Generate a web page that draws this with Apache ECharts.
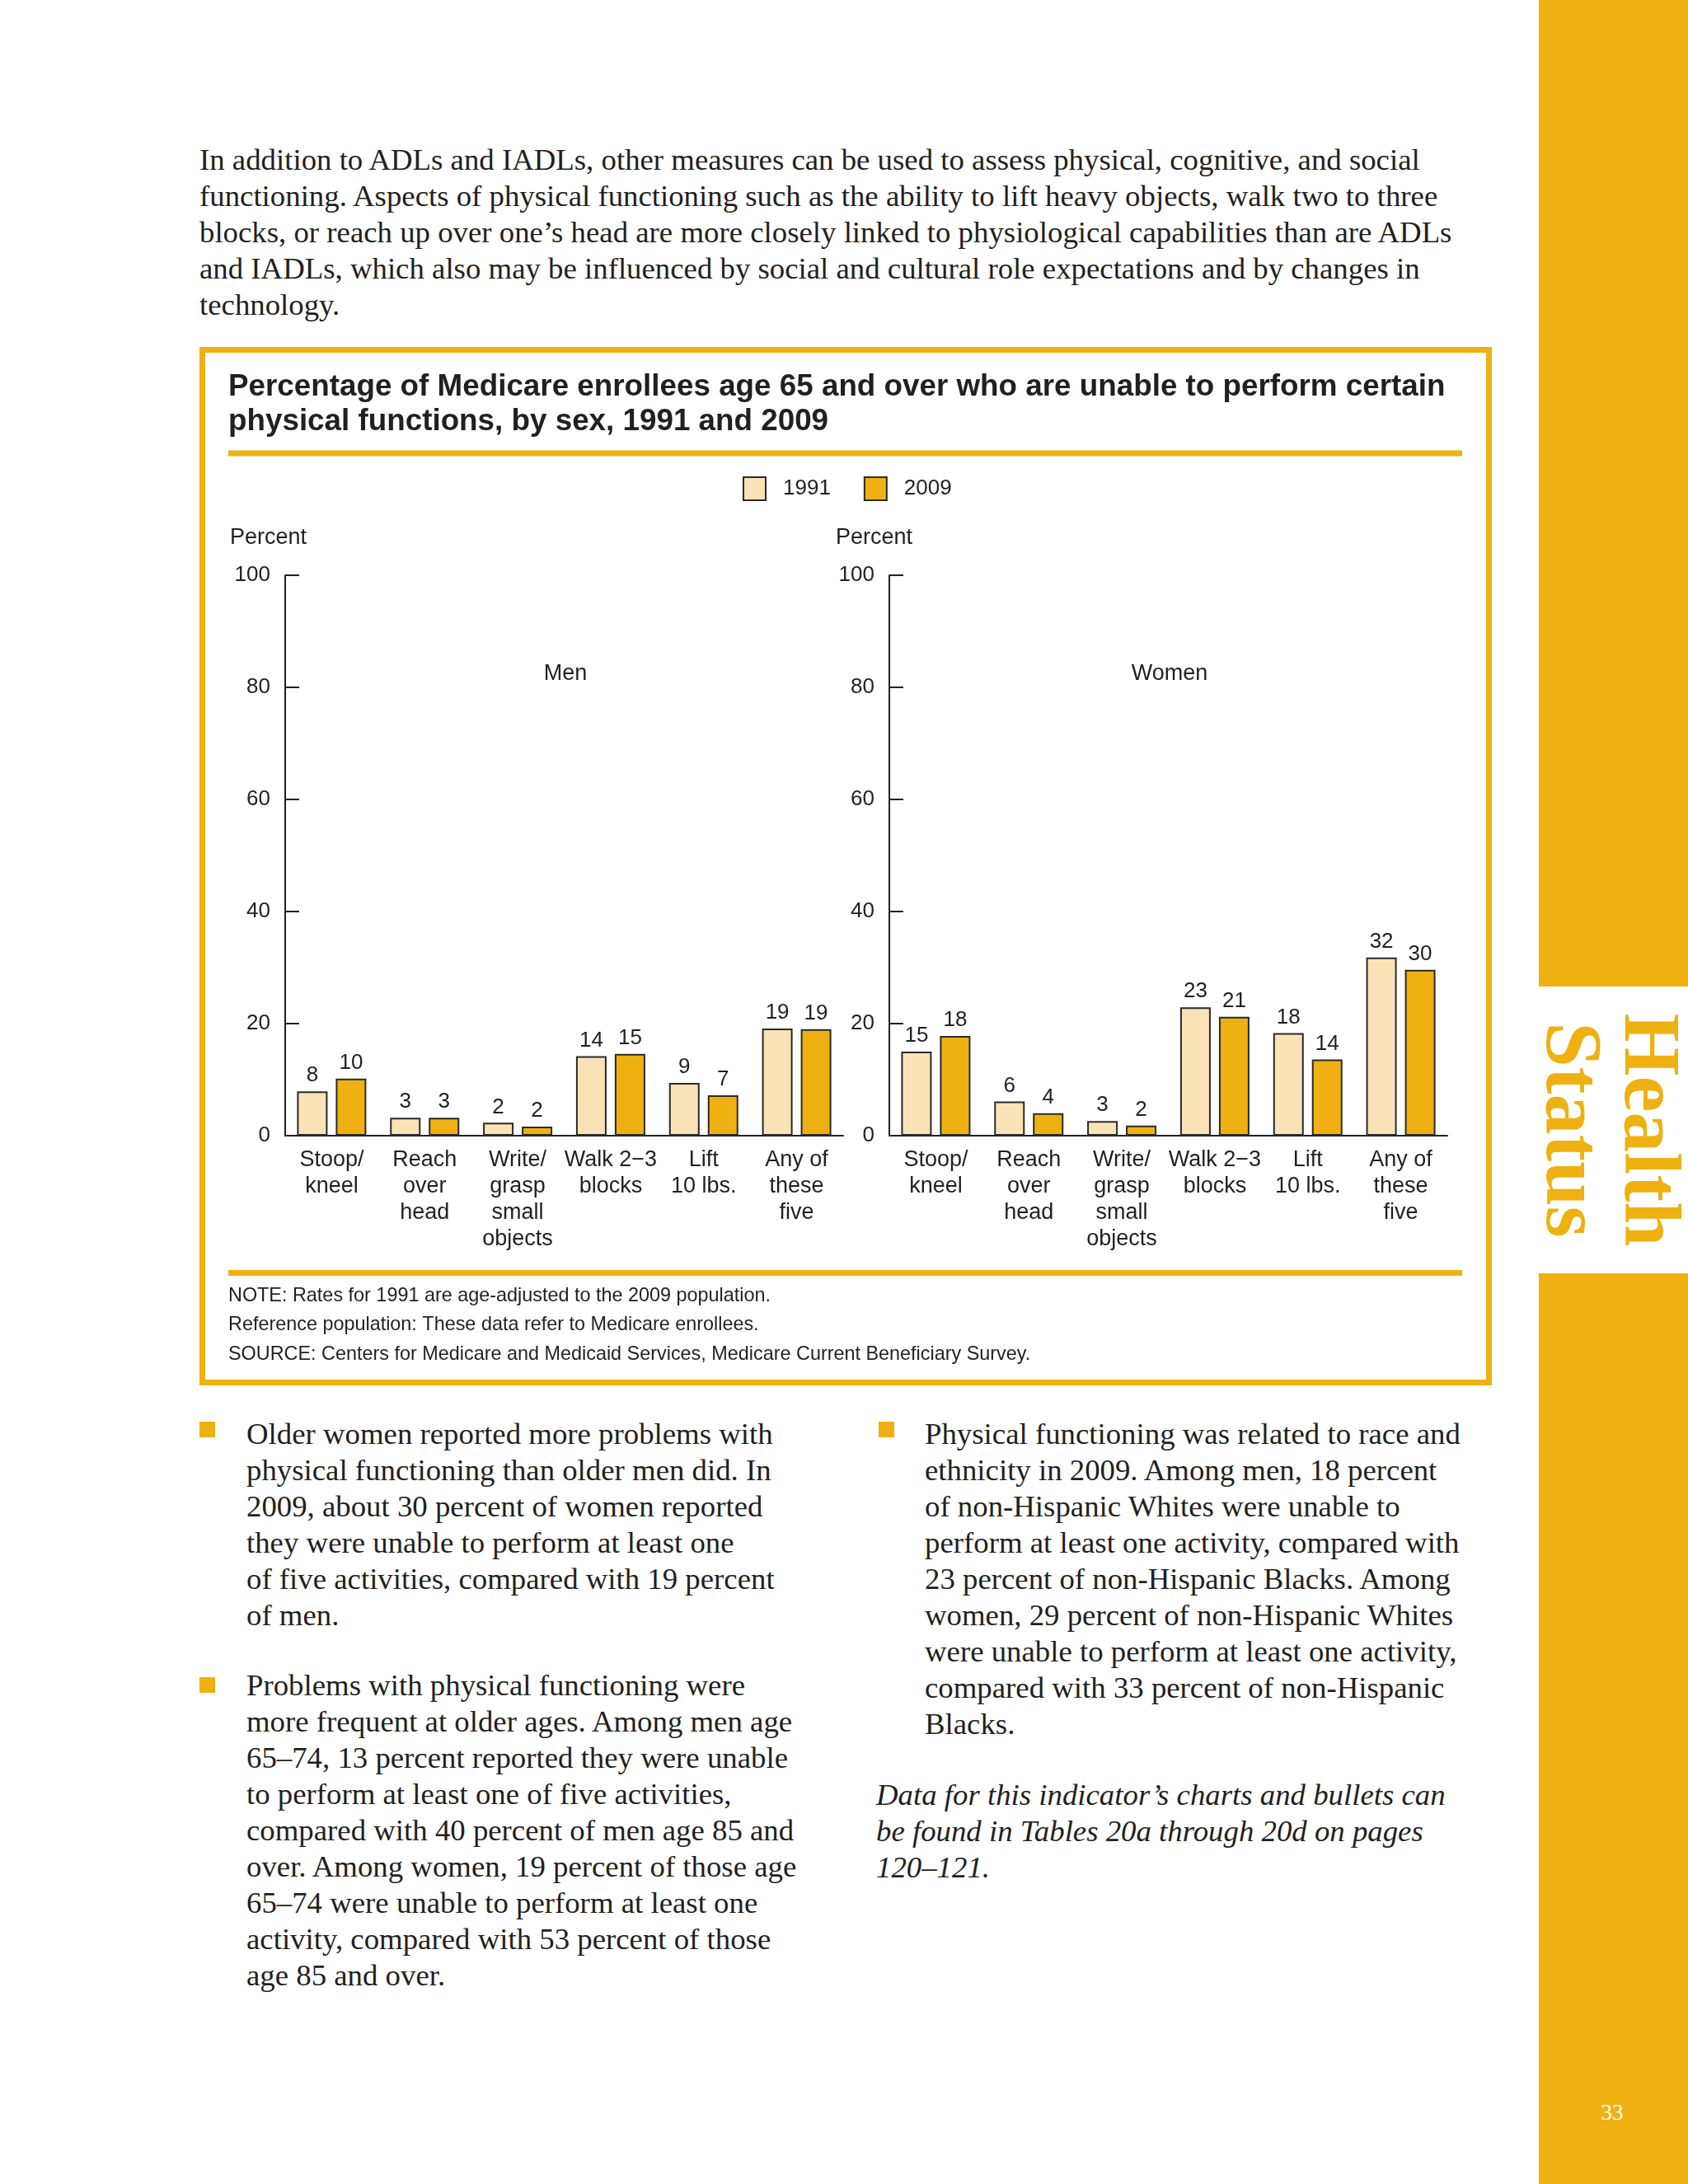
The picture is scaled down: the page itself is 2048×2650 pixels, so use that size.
<!DOCTYPE html>
<html>
<head>
<meta charset="utf-8">
<script src="https://cdn.jsdelivr.net/npm/echarts@6/dist/echarts.min.js"></script>
<style>
  html, body { margin:0; padding:0; background:#fff; }
  #page { position:relative; width:2048px; height:2650px; overflow:hidden; background:#fff; }
  #chart { position:absolute; left:0; top:0; width:2048px; height:2650px; }
  .serif { position:absolute; font-family:"Liberation Serif","Times New Roman",serif; font-size:36.8px; line-height:44px; color:#231f20; white-space:pre; }
  .gold { position:absolute; background:#EEB111; }
  .bullet { position:absolute; width:19px; height:19px; background:#EEB111; }
</style>
</head>
<body>
<div id="page">
  <div class="gold" style="left:1867px; top:0; width:181px; height:1197px;"></div>
  <div class="gold" style="left:1867px; top:1545px; width:181px; height:1105px;"></div>
  <div style="position:absolute; left:1957px; top:1371px; width:420px; height:190px; transform:translate(-50%,-50%) rotate(90deg); font-family:'Liberation Serif',serif; font-weight:bold; font-size:98px; line-height:95px; color:#EEB111; text-align:center; white-space:pre;">Health
Status</div>
  <div style="position:absolute; left:1916px; top:2545px; width:80px; text-align:center; font-family:'Liberation Serif',serif; font-size:27px; line-height:36px; color:#fff;">33</div>

  <div class="serif" style="left:242px; top:172px;">In addition to ADLs and IADLs, other measures can be used to assess physical, cognitive, and social
functioning. Aspects of physical functioning such as the ability to lift heavy objects, walk two to three
blocks, or reach up over one’s head are more closely linked to physiological capabilities than are ADLs
and IADLs, which also may be influenced by social and cultural role expectations and by changes in
technology.</div>

  <div class="bullet" style="left:242px; top:1725px;"></div>
  <div class="serif" style="left:299px; top:1718px;">Older women reported more problems with
physical functioning than older men did. In
2009, about 30 percent of women reported
they were unable to perform at least one
of five activities, compared with 19 percent
of men.</div>

  <div class="bullet" style="left:242px; top:2035px;"></div>
  <div class="serif" style="left:299px; top:2023px;">Problems with physical functioning were
more frequent at older ages. Among men age
65–74, 13 percent reported they were unable
to perform at least one of five activities,
compared with 40 percent of men age 85 and
over. Among women, 19 percent of those age
65–74 were unable to perform at least one
activity, compared with 53 percent of those
age 85 and over.</div>

  <div class="bullet" style="left:1066px; top:1725px;"></div>
  <div class="serif" style="left:1122px; top:1718px;">Physical functioning was related to race and
ethnicity in 2009. Among men, 18 percent
of non-Hispanic Whites were unable to
perform at least one activity, compared with
23 percent of non-Hispanic Blacks. Among
women, 29 percent of non-Hispanic Whites
were unable to perform at least one activity,
compared with 33 percent of non-Hispanic
Blacks.</div>

  <div class="serif" style="left:1063px; top:2156px; font-style:italic;">Data for this indicator’s charts and bullets can
be found in Tables 20a through 20d on pages
120–121.</div>

  <div id="chart"></div>
</div>
<script>
// ---- data ----
const categories = ['Stoop/\nkneel', 'Reach\nover\nhead', 'Write/\ngrasp\nsmall\nobjects', 'Walk 2\u22123\nblocks', 'Lift\n10 lbs.', 'Any of\nthese\nfive'];
const men1991 = [7.9, 3.2, 2.3, 14.2, 9.4, 19.1];
const men2009 = [10.2, 3.2, 1.6, 14.6, 7.2, 19.0];
const women1991 = [15.0, 6.1, 2.6, 22.9, 18.3, 31.8];
const women2009 = [17.8, 4.0, 1.8, 21.2, 13.6, 29.6];
const menLabels1991 = ['8', '3', '2', '14', '9', '19'];
const menLabels2009 = ['10', '3', '2', '15', '7', '19'];
const womenLabels1991 = ['15', '6', '3', '23', '18', '32'];
const womenLabels2009 = ['18', '4', '2', '21', '14', '30'];
const yTicks = { min: 0, max: 100, interval: 20 };
const seriesNames = ['1991', '2009'];

const GOLD = '#EEB111';
const LIGHT = '#F9E3B6';
const INK = '#231f20';
const FONT = '"Liberation Sans", Arial, sans-serif';

const chart = echarts.init(document.getElementById('chart'), null, { width: 2048, height: 2650 });

function yAxis(gi) {
  return {
    type: 'value', gridIndex: gi, min: yTicks.min, max: yTicks.max, interval: yTicks.interval,
    axisLine: { show: true, lineStyle: { color: INK, width: 2 } },
    axisTick: { show: true, inside: true, length: 17, lineStyle: { color: INK, width: 2 } },
    axisLabel: { fontSize: 26, color: INK, margin: 18, fontFamily: FONT },
    splitLine: { show: false }
  };
}
function xAxis(gi) {
  return {
    type: 'category', gridIndex: gi, data: categories,
    axisLine: { show: true, lineStyle: { color: INK, width: 2 } },
    axisTick: { show: false },
    axisLabel: { interval: 0, fontSize: 27, lineHeight: 32, margin: 14, color: INK, fontFamily: FONT }
  };
}
function bar(name, gi, data, labels, color) {
  return {
    type: 'bar', name: name, xAxisIndex: gi, yAxisIndex: gi, data: data,
    barWidth: 37, barGap: '27%',
    itemStyle: { color: color, borderColor: '#2a2a2a', borderWidth: 2 },
    label: { show: true, position: 'top', distance: 6, fontSize: 26, color: INK, fontFamily: FONT,
             formatter: p => labels[p.dataIndex] }
  };
}

const option = {
  animation: false,
  textStyle: { fontFamily: FONT },
  legend: {
    left: 896, top: 573, itemWidth: 27, itemHeight: 28, itemGap: 40, icon: 'rect',
    data: seriesNames,
    textStyle: { fontSize: 26, color: INK, fontFamily: FONT, padding: [0, 0, 0, 16] }
  },
  grid: [
    { left: 346, top: 698, width: 677, height: 680 },
    { left: 1079, top: 698, width: 677, height: 680 }
  ],
  xAxis: [xAxis(0), xAxis(1)],
  yAxis: [yAxis(0), yAxis(1)],
  series: [
    bar(seriesNames[0], 0, men1991, menLabels1991, LIGHT),
    bar(seriesNames[1], 0, men2009, menLabels2009, GOLD),
    bar(seriesNames[0], 1, women1991, womenLabels1991, LIGHT),
    bar(seriesNames[1], 1, women2009, womenLabels2009, GOLD)
  ],
  graphic: [
    { type: 'rect', shape: { x: 245.5, y: 424.5, width: 1561, height: 1253 }, style: { fill: 'none', stroke: GOLD, lineWidth: 7 } },
    { type: 'text', x: 277, y: 470, style: { text: 'Percentage of Medicare enrollees age 65 and over who are unable to perform certain', font: 'bold 36.8px ' + FONT, fill: INK, verticalAlign: 'middle' } },
    { type: 'text', x: 277, y: 512, style: { text: 'physical functions, by sex, 1991 and 2009', font: 'bold 36.8px ' + FONT, fill: INK, verticalAlign: 'middle' } },
    { type: 'rect', shape: { x: 277, y: 546.5, width: 1497, height: 7 }, style: { fill: GOLD } },
    { type: 'text', x: 279, y: 653, style: { text: 'Percent', font: '27px ' + FONT, fill: INK, verticalAlign: 'middle' } },
    { type: 'text', x: 1014, y: 653, style: { text: 'Percent', font: '27px ' + FONT, fill: INK, verticalAlign: 'middle' } },
    { type: 'text', x: 686, y: 818, style: { text: 'Men', font: '27px ' + FONT, fill: INK, align: 'center', verticalAlign: 'middle' } },
    { type: 'text', x: 1419, y: 818, style: { text: 'Women', font: '27px ' + FONT, fill: INK, align: 'center', verticalAlign: 'middle' } },
    { type: 'rect', shape: { x: 277, y: 1541, width: 1497, height: 7 }, style: { fill: GOLD } },
    { type: 'text', x: 277, y: 1573, style: { text: 'NOTE: Rates for 1991 are age-adjusted to the 2009 population.', font: '23.4px ' + FONT, fill: INK, verticalAlign: 'middle' } },
    { type: 'text', x: 277, y: 1608, style: { text: 'Reference population: These data refer to Medicare enrollees.', font: '23.4px ' + FONT, fill: INK, verticalAlign: 'middle' } },
    { type: 'text', x: 277, y: 1644, style: { text: 'SOURCE: Centers for Medicare and Medicaid Services, Medicare Current Beneficiary Survey.', font: '23.4px ' + FONT, fill: INK, verticalAlign: 'middle' } }
  ]
};
chart.setOption(option);
</script>
</body>
</html>
